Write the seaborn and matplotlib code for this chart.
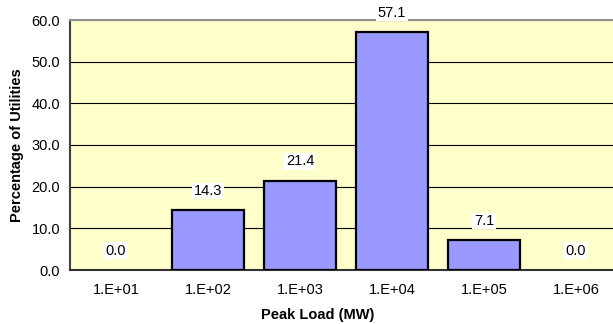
import numpy as np
import pandas as pd
import matplotlib
matplotlib.use("Agg")
import matplotlib.pyplot as plt
import seaborn as sns

# data
peak_load = ["1.E+01", "1.E+02", "1.E+03", "1.E+04", "1.E+05", "1.E+06"]
pct_utilities = [0.0, 14.3, 21.4, 57.1, 7.1, 0.0]
y_ticks = [0, 10, 20, 30, 40, 50, 60]

df = pd.DataFrame({"load": peak_load, "pct": pct_utilities})

sns.set_style("white")
plt.rcParams["font.family"] = ["Liberation Sans", "DejaVu Sans"]
plt.rcParams["text.color"] = "black"
plt.rcParams["xtick.color"] = "black"
plt.rcParams["ytick.color"] = "black"
plt.rcParams["axes.labelcolor"] = "black"

W, H = 613, 324
fs = 10.5
fig = plt.figure(figsize=(W / 100, H / 100), dpi=100)
# plot area runs past the right edge like the original (cropped)
ax = fig.add_axes([70 / W, (H - 270) / H, 552 / W, 250 / H])
ax.set_facecolor("#FFFFCC")

sns.barplot(data=df, x="load", y="pct", ax=ax, color="#9999FF",
            saturation=1, width=0.78, edgecolor="black", linewidth=1.6,
            zorder=3)
# excel draws nothing for zero-height bars
for p in ax.patches:
    if p.get_height() == 0:
        p.set_linewidth(0)

ax.set_xlim(-0.5, 5.5)
ax.set_ylim(0, 60)
ax.set_yticks(y_ticks)
ax.set_yticklabels([f"{v:.1f}" for v in y_ticks], fontsize=fs)
ax.yaxis.grid(True, color="black", linewidth=0.8, zorder=1)
ax.set_axisbelow(True)

# tick marks sit at category boundaries, labels at centers
ax.set_xticks(np.arange(len(peak_load)))
ax.set_xticklabels(peak_load, fontsize=fs)
ax.tick_params(axis="x", which="major", length=0, pad=9)
ax.set_xticks(np.arange(-0.5, len(peak_load), 1.0), minor=True)
ax.tick_params(axis="x", which="minor", length=4, width=1, color="#404040",
               direction="out")
ax.tick_params(axis="y", length=4, width=1, color="#404040", direction="out",
               pad=3)

ax.spines["left"].set_visible(True)
ax.spines["top"].set_visible(True)
ax.spines["bottom"].set_visible(True)
ax.spines["right"].set_visible(False)
ax.spines["left"].set_color("#404040")
ax.spines["left"].set_linewidth(1.5)
ax.spines["top"].set_color("#909090")
ax.spines["top"].set_linewidth(1.5)
ax.spines["bottom"].set_color("#303030")
ax.spines["bottom"].set_linewidth(1.5)

for i, v in enumerate(pct_utilities):
    ax.annotate(f"{v:.1f}", (i, v), xytext=(0, 14), textcoords="offset points",
                ha="center", va="center", fontsize=fs, zorder=5,
                bbox=dict(boxstyle="square,pad=0.1", fc="white", ec="none"))

ax.set_xlabel("Peak Load (MW)", fontsize=fs, fontweight="bold", va="center")
ax.set_ylabel("Percentage of Utilities", fontsize=fs, fontweight="bold",
              va="center")
ax.xaxis.set_label_coords((315 - 70) / 552 + 0.005, -(315 - 270) / 250)
ax.yaxis.set_label_coords(-(70 - 17) / 552, 0.5)

fig.savefig("out.png", dpi=100)
